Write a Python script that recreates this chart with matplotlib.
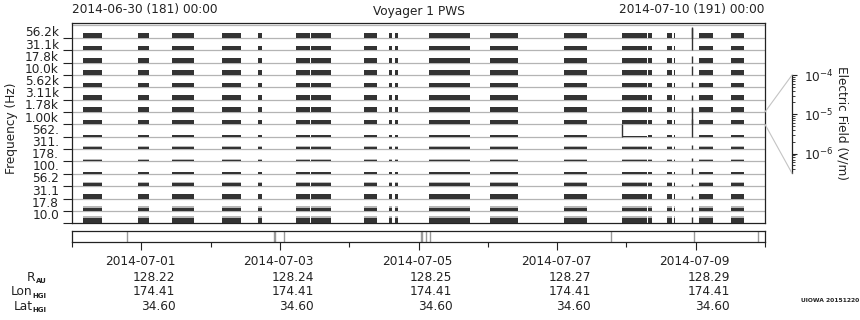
import numpy as np
import matplotlib
matplotlib.use('Agg')
import matplotlib.pyplot as plt
from matplotlib.patches import ConnectionPatch
from matplotlib.ticker import FixedLocator, FixedFormatter, NullFormatter, LogLocator, LogFormatterMathtext
import matplotlib.transforms as mtransforms

plt.rcParams['font.family'] = ['DejaVu Sans']

# ---------------- data ----------------
freq_labels = ['10.0', '17.8', '31.1', '56.2', '100.', '178.', '311.', '562.',
               '1.00k', '1.78k', '3.11k', '5.62k', '10.0k', '17.8k', '31.1k', '56.2k']

# data-coverage intervals, days after 2014-06-30 00:00
seg_start = [0.163, 0.959, 1.436, 2.159, 2.679, 3.228, 3.446, 4.212, 4.573, 4.660,
             5.152, 6.034, 7.103, 7.942, 8.318, 8.593, 8.680, 9.042, 9.505]
seg_end = [0.438, 1.118, 1.754, 2.434, 2.737, 3.431, 3.735, 4.400, 4.617, 4.703,
           5.745, 6.439, 7.436, 8.303, 8.376, 8.665, 8.695, 9.245, 9.693]

# typical electric field level per channel (V/m), dense trace and faint envelope
chan_field = [3.2e-6, 1.3e-6, 2.4e-6, 1.3e-6, 8.9e-7, 6.7e-7, 7.5e-7, 6.3e-7,
              2.4e-6, 2.7e-6, 2.7e-6, 2.7e-6, 2.7e-6, 2.7e-6, 2.7e-6, 2.7e-6]
chan_fuzz = [7.5e-6, 2.5e-6, 2.4e-6, 2.8e-6, 8.9e-7, 1.1e-6, 1.2e-6, 6.3e-7,
             2.4e-6, 2.7e-6, 2.7e-6, 2.7e-6, 2.7e-6, 2.7e-6, 2.7e-6, 2.7e-6]

# impulsive event seen in all channels
spike_day = 8.95
spike_field = [5.6e-6, 1.6e-6, 1.3e-6, 1.0e-6, 5.6e-6, 1.6e-6, 2.2e-6, 0.24,
               3.2e-6, 3.2e-6, 3.2e-6, 3.2e-6, 1.8e-5, 5.6e-6, 1.0e-2, 5.6e-5]

# 562 Hz channel peculiarities
ch562_spike_day = 7.942
ch562_spike_field = 1.0e-4
ch562_quiet = (7.942, 8.303)
ch562_quiet_field = 3.6e-7

# gap markers in the lower strip (days)
gap_marks = [0.789, 2.915, 2.935, 3.055, 5.035, 5.05, 5.109, 5.167, 7.779, 8.973, 9.899]

date_days = [1, 3, 5, 7, 9]
date_labels = ['2014-07-01', '2014-07-03', '2014-07-05', '2014-07-07', '2014-07-09']
r_au = ['128.22', '128.24', '128.25', '128.27', '128.29']
lon_hgi = ['174.41', '174.41', '174.41', '174.41', '174.41']
lat_hgi = ['34.60', '34.60', '34.60', '34.60', '34.60']

# field scale of one channel strip
field_floor = 10 ** -6.5
field_top = 1e-4
decades_per_strip = np.log10(field_top) - np.log10(field_floor)


def strip_h(E):
    return (np.log10(E) - np.log10(field_floor)) / decades_per_strip


# ---------------- figure ----------------
W, H = 860, 320
fig = plt.figure(figsize=(W / 100, H / 100), dpi=100)
FS = 8.7
DARK = '#333333'


def fx(px):
    return px / W


def fy(py):
    return 1 - py / H


ax = fig.add_axes([fx(72), fy(223.3), fx(693), 200 / H])
ax.set_xlim(0, 10)
ax.set_ylim(0, 16.17)

nch = len(freq_labels)
ax.hlines(np.arange(1, nch + 1), 0, 10, color='#b4b4b4', lw=0.9, zorder=1)

for i in range(nch):
    xr_main = []
    for s, e in zip(seg_start, seg_end):
        if freq_labels[i] == '562.' and abs(s - ch562_quiet[0]) < 1e-6:
            continue
        xr_main.append((s, e - s))
    ax.broken_barh(xr_main, (i, strip_h(chan_fuzz[i])), facecolor='#b8b8b8',
                   edgecolor='none', zorder=2)
    ax.broken_barh(xr_main, (i, strip_h(chan_field[i])), facecolor=DARK,
                   edgecolor='none', zorder=3)
    if freq_labels[i] == '562.':
        ax.broken_barh([(ch562_quiet[0], ch562_quiet[1] - ch562_quiet[0])],
                       (i, strip_h(ch562_quiet_field)), facecolor=DARK,
                       edgecolor='none', zorder=3)
        ax.vlines(ch562_spike_day, i, i + strip_h(ch562_spike_field), color=DARK,
                  lw=1.0, zorder=3)
    ax.vlines(spike_day, i, i + strip_h(spike_field[i]), color=DARK, lw=1.0, zorder=3)

ax.set_xticks([])
ax.yaxis.set_major_locator(FixedLocator(np.arange(nch)))
ax.yaxis.set_major_formatter(NullFormatter())
ax.yaxis.set_minor_locator(FixedLocator(np.linspace(0.75, 15.52, nch)))
ax.yaxis.set_minor_formatter(FixedFormatter(freq_labels))
ax.tick_params(axis='y', which='major', length=6.5, width=0.8, direction='out', color='#222222')
ax.tick_params(axis='y', which='minor', length=0, pad=9.4, labelsize=FS, labelcolor='#222222')
for sp in ax.spines.values():
    sp.set_linewidth(0.9)
    sp.set_color('#222222')

# ---------------- lower strip ----------------
sx = fig.add_axes([fx(72), fy(242.3), fx(693), 11.3 / H])
sx.set_xlim(0, 10)
sx.set_ylim(0, 1)
sx.vlines(gap_marks, 0, 1, color='#999999', lw=1.0)
sx.set_yticks([])
sx.xaxis.set_major_locator(FixedLocator(date_days))
sx.xaxis.set_minor_locator(FixedLocator(np.arange(0, 11, 2)))
sx.xaxis.set_major_formatter(NullFormatter())
sx.tick_params(axis='x', which='major', length=6.0, width=0.8, direction='out', color='#222222')
sx.tick_params(axis='x', which='minor', length=3.3, width=0.8, direction='out', color='#222222')
for sp in sx.spines.values():
    sp.set_linewidth(0.9)
    sp.set_color('#222222')

trans = mtransforms.blended_transform_factory(sx.transData, fig.transFigure) + \
    mtransforms.ScaledTranslation(34 / 100, 0, fig.dpi_scale_trans)
rows = [(date_labels, 261.7), (r_au, 277.3), (lon_hgi, 291.7), (lat_hgi, 306.0)]
for labels, py in rows:
    for d, lab in zip(date_days, labels):
        fig.text(d, fy(py), lab, transform=trans, ha='right', va='center',
                 fontsize=FS, color='#222222')

row_names = [('R', 'AU', 35.5, 277.3), ('Lon', 'HGI', 32.5, 291.7), ('Lat', 'HGI', 32.5, 306.0)]
for main, sub, px, py in row_names:
    fig.text(fx(px), fy(py), main, ha='right', va='center', fontsize=FS, color='#222222')
    fig.text(fx(px + 0.3), fy(py + 4), sub, ha='left', va='center', fontsize=5.0,
             fontweight='bold', color='#222222')

# ---------------- field scale ----------------
cax = fig.add_axes([fx(791), fy(173.3), 0.0012, 98.3 / H])
cax.set_yscale('log')
cax.set_ylim(field_floor, field_top)
cax.patch.set_visible(False)
for k in ('left', 'top', 'bottom'):
    cax.spines[k].set_visible(False)
cax.spines['right'].set_linewidth(0.9)
cax.spines['right'].set_color('#222222')
cax.set_xticks([])
cax.yaxis.tick_right()
cax.yaxis.set_major_locator(LogLocator(base=10))
cax.yaxis.set_major_formatter(LogFormatterMathtext())
cax.yaxis.set_minor_locator(LogLocator(base=10, subs=np.arange(2, 10)))
cax.yaxis.set_minor_formatter(NullFormatter())
cax.tick_params(axis='y', which='major', length=3.5, width=0.8, pad=5, labelsize=FS,
                colors='#222222')
cax.tick_params(axis='y', which='minor', length=2.0, width=0.6, colors='#222222')

ch_ref = freq_labels.index('1.00k')
for ya, yb in ((ch_ref + 1, 1), (ch_ref, 0)):
    cp = ConnectionPatch(xyA=(10, ya), coordsA=ax.transData, xyB=(1, yb),
                         coordsB=cax.transAxes, color='#c4c4c4', lw=0.8)
    fig.add_artist(cp)

# ---------------- texts ----------------
fig.text(fx(72), fy(9), '2014-06-30 (181) 00:00', ha='left', va='center', fontsize=FS,
         color='#222222')
fig.text(fx(764), fy(9), '2014-07-10 (191) 00:00', ha='right', va='center', fontsize=FS,
         color='#222222')
fig.text(fx(418.5), fy(11), 'Voyager 1 PWS', ha='center', va='center', fontsize=FS,
         color='#222222')
fig.text(fx(12), fy(128), 'Frequency (Hz)', rotation=90, ha='center', va='center',
         fontsize=FS, color='#222222')
fig.text(fx(842), fy(123), 'Electric Field (V/m)', rotation=-90, ha='center', va='center',
         fontsize=FS, color='#222222')
fig.text(fx(859), fy(300), 'UIOWA 20151220', ha='right', va='center', fontsize=4.3,
         fontweight='bold', color='#222222')

fig.savefig('out.png', dpi=100)
